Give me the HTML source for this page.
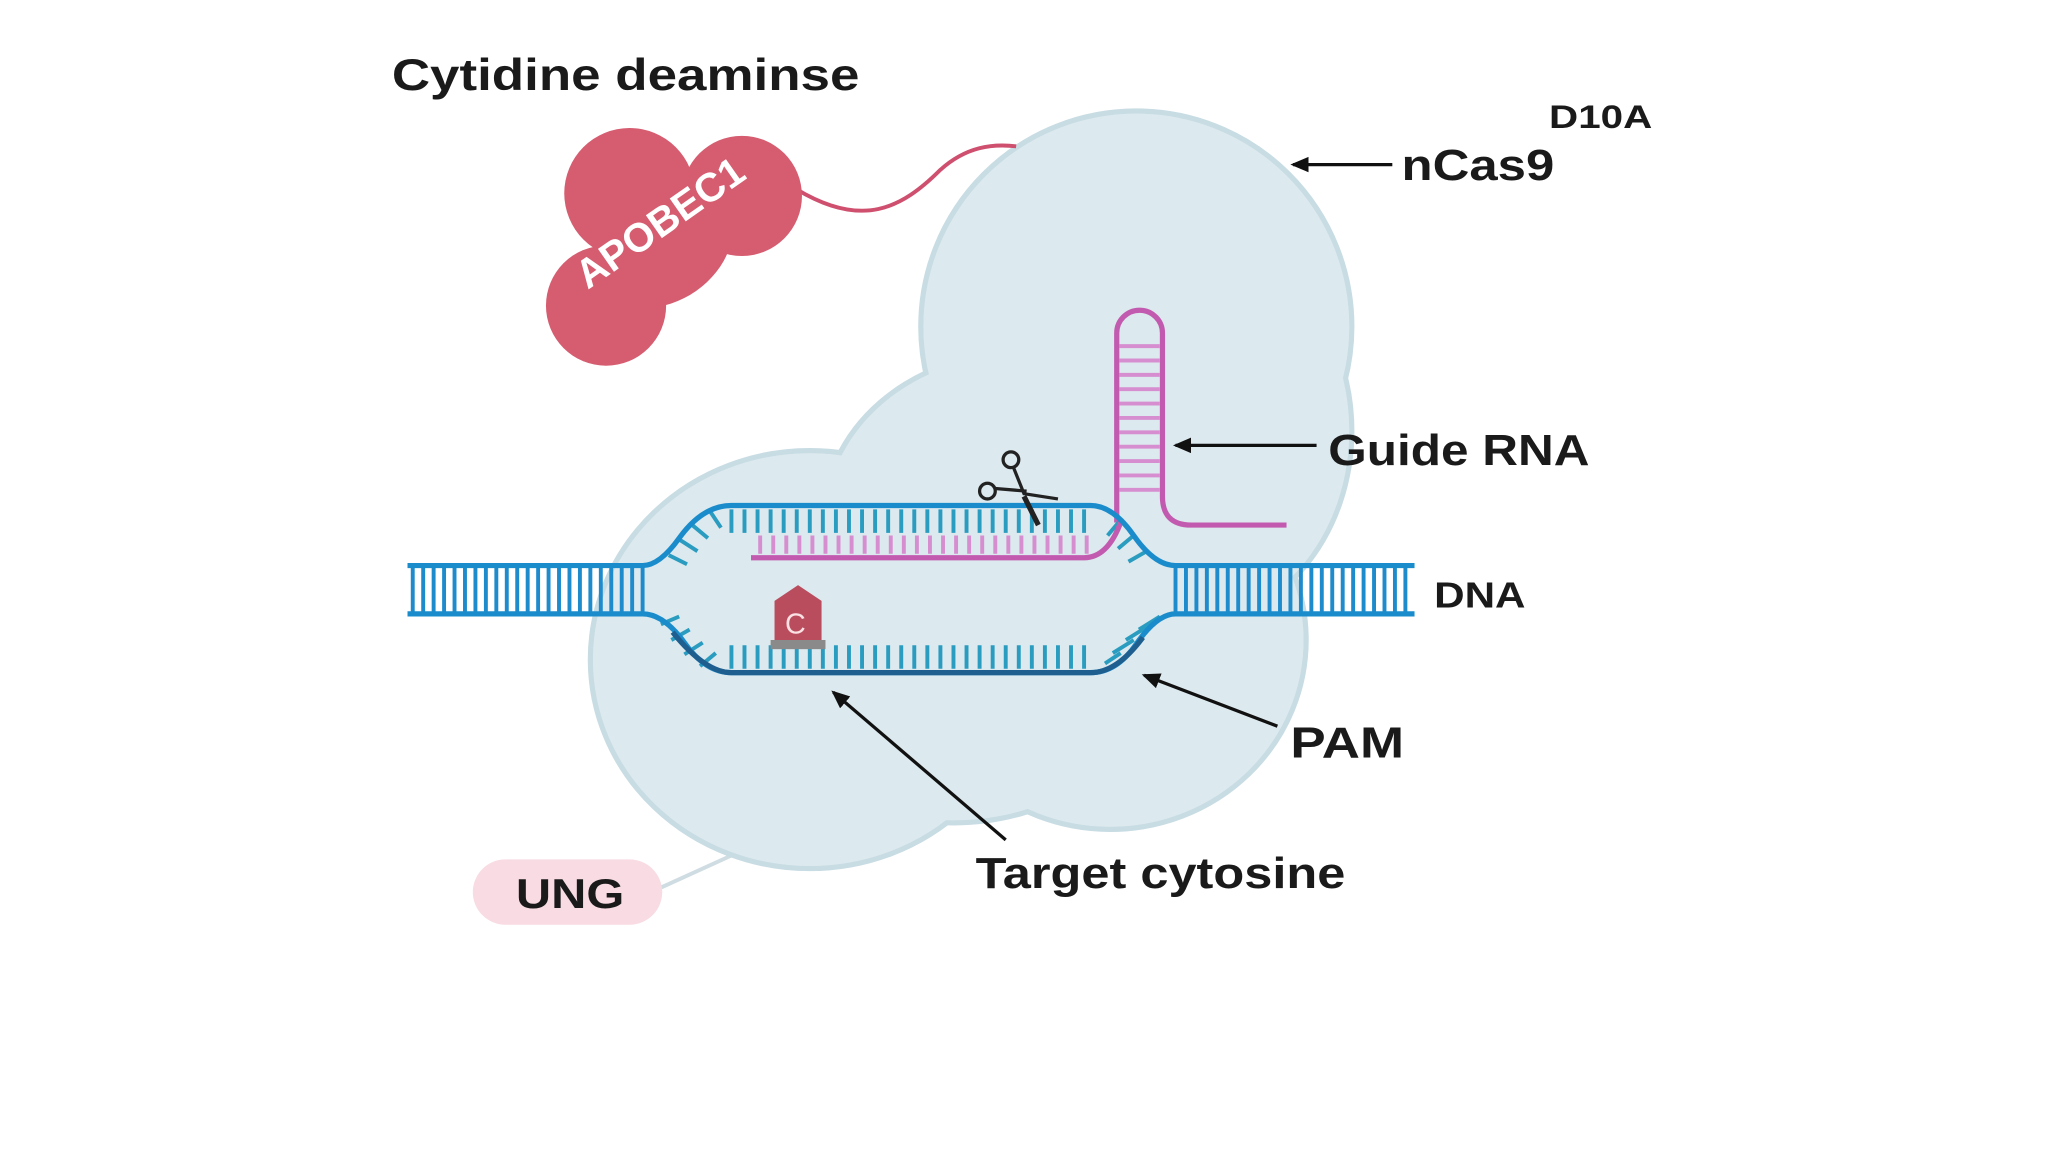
<!DOCTYPE html>
<html><head><meta charset="utf-8"><style>
html,body{margin:0;padding:0;background:#fff;width:2048px;height:1152px;overflow:hidden}
svg{display:block}
text{font-family:"Liberation Sans",sans-serif;font-weight:bold;fill:#1a1a1a}
</style></head><body>
<svg width="2048" height="1152" viewBox="0 0 1568 882" preserveAspectRatio="none" xmlns="http://www.w3.org/2000/svg">
<defs>
<marker id="ah" markerWidth="14" markerHeight="12" refX="12" refY="6" orient="auto" markerUnits="userSpaceOnUse"><path d="M0,0 L14,6 L0,12 Z" fill="#111"/></marker>
</defs>
<rect width="1568" height="882" fill="#fff"/>
<line x1="505" y1="680" x2="560" y2="655" stroke="#cfdde2" stroke-width="3"/>
<g fill="#dce9ee" stroke="#c8dce3" stroke-width="4">
<ellipse cx="870" cy="250" rx="165" ry="165"/>
<ellipse cx="905" cy="330" rx="130" ry="150"/>
<ellipse cx="620" cy="505" rx="168" ry="160"/>
<ellipse cx="850" cy="490" rx="150" ry="145"/>
<ellipse cx="780" cy="400" rx="150" ry="130"/>
<ellipse cx="730" cy="530" rx="140" ry="100"/>
</g>
<g fill="#dce9ee">
<ellipse cx="870" cy="250" rx="163" ry="163"/>
<ellipse cx="905" cy="330" rx="128" ry="148"/>
<ellipse cx="620" cy="505" rx="166" ry="158"/>
<ellipse cx="850" cy="490" rx="148" ry="143"/>
<ellipse cx="780" cy="400" rx="148" ry="128"/>
<ellipse cx="730" cy="530" rx="138" ry="98"/>
</g>
<path d="M610,145 C660,175 690,160 720,130 C740,112 760,110 778,112" fill="none" stroke="#cf4f6f" stroke-width="3"/>
<g fill="#d65c70">
<circle cx="482" cy="148" r="50"/>
<circle cx="568" cy="150" r="46"/>
<circle cx="464" cy="234" r="46"/>
<ellipse cx="510" cy="190" rx="55" ry="40" transform="rotate(-35 510 190)"/>
</g>
<text x="0" y="0" transform="translate(450,222) rotate(-35)" style="fill:#fff;font-size:31px">APOBEC1</text>
<g stroke="#c25bb0" stroke-width="4" fill="none">
<path d="M855,400 L855,255 A17.5,17.5 0 0 1 890,255 L890,380 Q890,402 912,402 L985,402"/>
</g>
<g stroke="#d68ed0" stroke-width="3">
<line x1="857" y1="265" x2="888" y2="265"/><line x1="857" y1="276" x2="888" y2="276"/><line x1="857" y1="287" x2="888" y2="287"/><line x1="857" y1="298" x2="888" y2="298"/><line x1="857" y1="309" x2="888" y2="309"/><line x1="857" y1="320" x2="888" y2="320"/><line x1="857" y1="331" x2="888" y2="331"/><line x1="857" y1="342" x2="888" y2="342"/><line x1="857" y1="353" x2="888" y2="353"/><line x1="857" y1="364" x2="888" y2="364"/><line x1="857" y1="375" x2="888" y2="375"/>
</g>
<g stroke="#1e8ccc" stroke-width="3">
<path d="M316,434V469M324,434V469M332,434V469M340,434V469M348,434V469M356,434V469M364,434V469M372,434V469M380,434V469M388,434V469M396,434V469M404,434V469M412,434V469M420,434V469M428,434V469M436,434V469M444,434V469M452,434V469M460,434V469M468,434V469M476,434V469M484,434V469M492,434V469"/>
<path d="M900,434V469M908,434V469M916,434V469M924,434V469M932,434V469M940,434V469M948,434V469M956,434V469M964,434V469M972,434V469M980,434V469M988,434V469M996,434V469M1004,434V469M1012,434V469M1020,434V469M1028,434V469M1036,434V469M1044,434V469M1052,434V469M1060,434V469M1068,434V469M1076,434V469"/>
</g>
<g stroke="#2a9cc0" stroke-width="3">
<path d="M560,390V408M570,390V408M580,390V408M590,390V408M600,390V408M610,390V408M620,390V408M630,390V408M640,390V408M650,390V408M660,390V408M670,390V408M680,390V408M690,390V408M700,390V408M710,390V408M720,390V408M730,390V408M740,390V408M750,390V408M760,390V408M770,390V408M780,390V408M790,390V408M800,390V408M810,390V408M820,390V408M830,390V408"/>
<path d="M560,494V512M570,494V512M580,494V512M590,494V512M600,494V512M610,494V512M620,494V512M630,494V512M640,494V512M650,494V512M660,494V512M670,494V512M680,494V512M690,494V512M700,494V512M710,494V512M720,494V512M730,494V512M740,494V512M750,494V512M760,494V512M770,494V512M780,494V512M790,494V512M800,494V512M810,494V512M820,494V512M830,494V512"/>
<path d="M512,425L526,432M520,413L534,422M530,402L542,412M544,392L552,404"/>
<path d="M506,478L520,472M514,490L528,482M524,501L538,492M536,510L548,500"/>
<path d="M858,398L848,410M868,410L856,420M878,422L864,430"/>
<path d="M868,490L852,500M878,480L862,490M888,472L872,482M858,500L846,508"/>
</g>
<g stroke="#d68ed0" stroke-width="3">
<path d="M582,410V424M592,410V424M602,410V424M612,410V424M622,410V424M632,410V424M642,410V424M652,410V424M662,410V424M672,410V424M682,410V424M692,410V424M702,410V424M712,410V424M722,410V424M732,410V424M742,410V424M752,410V424M762,410V424M772,410V424M782,410V424M792,410V424M802,410V424M812,410V424M822,410V424M832,410V424"/>
</g>
<path d="M575,427 L830,427 Q848,427 858,400" fill="none" stroke="#c25bb0" stroke-width="4"/>
<path d="M312,433 L492,433 Q505,433 520,412 Q538,387 560,387 L835,387 Q852,387 868,410 Q884,433 900,433 L1083,433" fill="none" stroke="#1a8ccc" stroke-width="4"/>
<path d="M312,470 L492,470 Q508,470 524,492 Q540,515 560,515 L835,515 Q855,515 870,493 Q886,470 900,470 L1083,470" fill="none" stroke="#1a8ccc" stroke-width="4"/>
<path d="M515,484 Q540,515 560,515 L835,515 Q855,515 875,488" fill="none" stroke="#1f5f90" stroke-width="4"/>
<path d="M593,492 L593,460 L611,448 L629,460 L629,492 Z" fill="#b94d5e"/>
<rect x="590" y="490" width="42" height="7" fill="#8a8a8a"/>
<text x="601" y="485" style="fill:#fbe0e4;font-size:22px;font-weight:normal">C</text>
<g fill="none" stroke="#222" stroke-width="2.5">
<circle cx="774" cy="352" r="6"/><circle cx="756" cy="376" r="6"/>
<path d="M776,358 L784,378 L810,382 M762,374 L786,376"/>
<path d="M784,380 L795,402" stroke-width="4"/>
</g>
<g stroke="#111" stroke-width="2.5" fill="none">
<line x1="1066" y1="126" x2="990" y2="126" marker-end="url(#ah)"/>
<line x1="1008" y1="341" x2="900" y2="341" marker-end="url(#ah)"/>
<line x1="978" y1="556" x2="876" y2="517" marker-end="url(#ah)"/>
<line x1="770" y1="643" x2="638" y2="530" marker-end="url(#ah)"/>
</g>
<rect x="362" y="658" width="145" height="50" rx="25" fill="#f8dbe3"/>
<text x="395" y="695" textLength="83" lengthAdjust="spacingAndGlyphs" style="font-size:32px">UNG</text>
<text x="300" y="69" textLength="358" lengthAdjust="spacingAndGlyphs" style="font-size:34px">Cytidine deaminse</text>
<text x="1186" y="98" textLength="79" lengthAdjust="spacingAndGlyphs" style="font-size:25px">D10A</text>
<text x="1073" y="138" textLength="117" lengthAdjust="spacingAndGlyphs" style="font-size:33px">nCas9</text>
<text x="1017" y="356" textLength="200" lengthAdjust="spacingAndGlyphs" style="font-size:33px">Guide RNA</text>
<text x="1098" y="465" textLength="70" lengthAdjust="spacingAndGlyphs" style="font-size:28px">DNA</text>
<text x="988" y="580" textLength="87" lengthAdjust="spacingAndGlyphs" style="font-size:33px">PAM</text>
<text x="747" y="680" textLength="283" lengthAdjust="spacingAndGlyphs" style="font-size:33px">Target cytosine</text>
</svg>
</body></html>
